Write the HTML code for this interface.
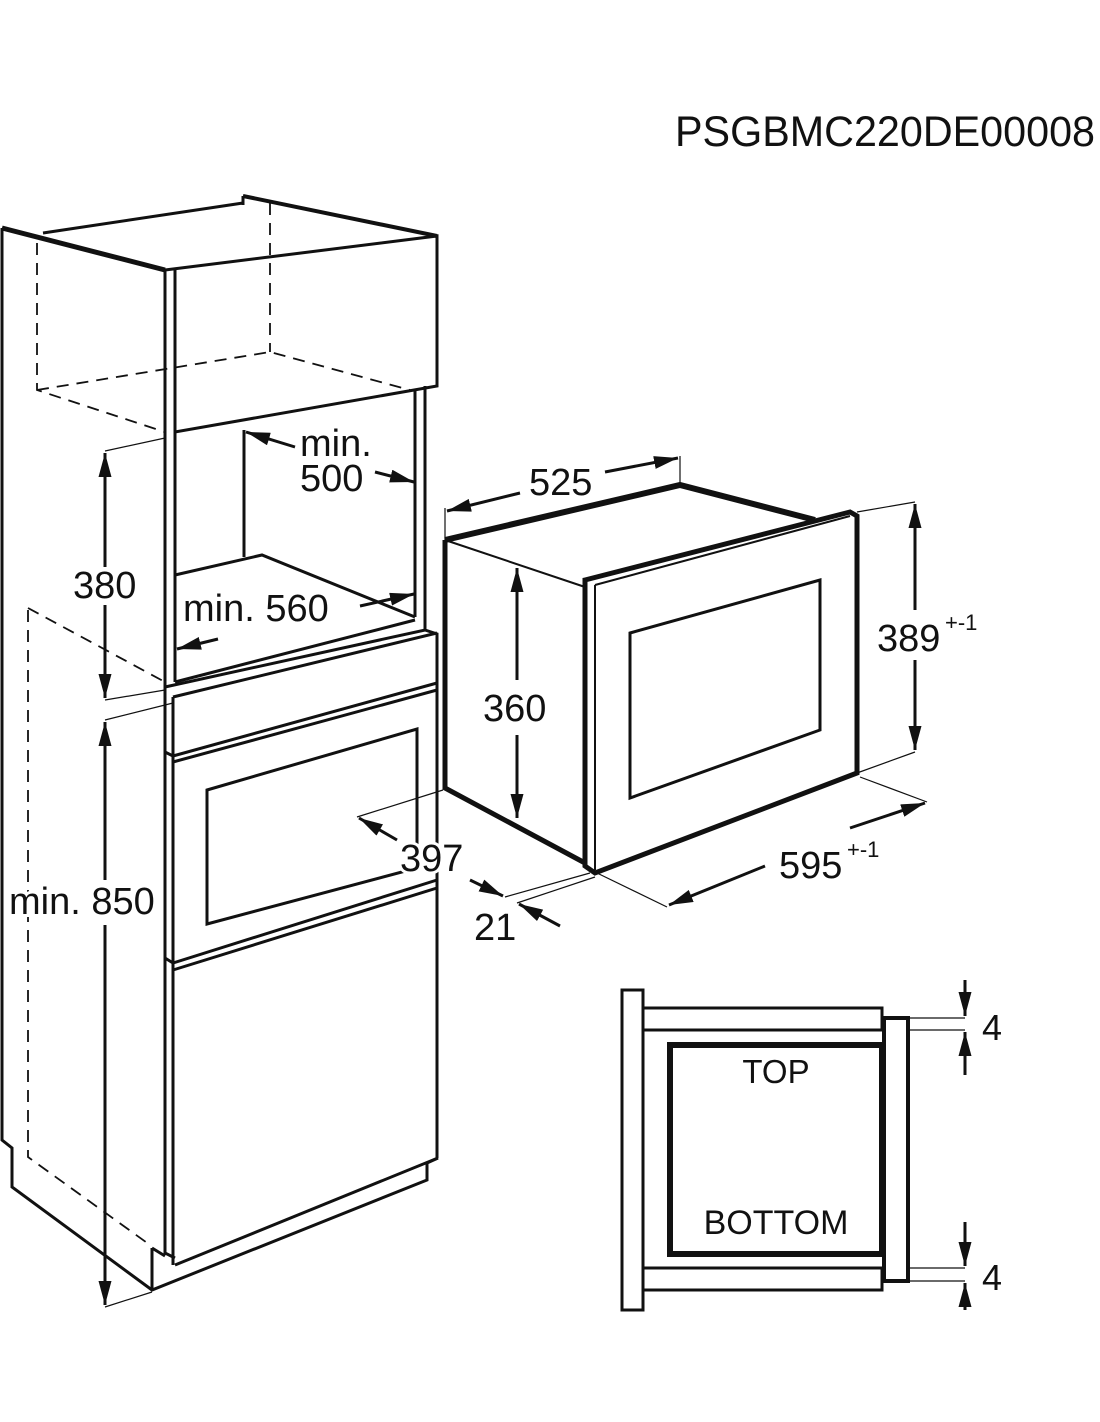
<!DOCTYPE html>
<html><head><meta charset="utf-8"><style>
html,body{margin:0;padding:0;background:#fff}
svg{display:block}
text{font-family:"Liberation Sans",Arial,sans-serif;fill:#111}
.h{stroke:#fff;stroke-width:6;paint-order:stroke}
</style></head><body>
<svg width="1100" height="1422" viewBox="0 0 1100 1422" xmlns="http://www.w3.org/2000/svg">
<defs>
<marker id="a" viewBox="0 0 24 13" refX="24" refY="6.5" markerWidth="24" markerHeight="13" markerUnits="userSpaceOnUse" orient="auto">
<path d="M0,0 L24,6.5 L0,13 Z" fill="#111"/>
</marker>
</defs>
<text x="675" y="146" font-size="43" textLength="420" lengthAdjust="spacingAndGlyphs">PSGBMC220DE00008</text>

<g fill="none" stroke="#111" stroke-width="3" stroke-linejoin="miter">
<path d="M2,228 L2,1140 L12,1148 L12,1187 L152,1290 L427,1180 L427,1163 L438,1158"/>
<path d="M2,228 L165,270" stroke-width="5"/>
<path d="M43,233 L243,203"/>
<path d="M243,196 L437,236" stroke-width="4"/>
<path d="M243,196 L243,205"/>
<path d="M165,270 L437,236 L437,386 L175,432 L175,268"/>
<path d="M165,270 L165,1253 L175,1258"/>
<path d="M175,432 L175,682"/>
<path d="M244,430 L244,557"/>
<path d="M175,575 L262,555 L415,617"/>
<path d="M415,390 L415,617"/>
<path d="M425,386 L425,630"/>
<path d="M175,682 L415,620"/>
<path d="M165,687 L425,630 L437,634 L437,1158"/>
<path d="M173,697 L437,633"/>
<path d="M173,697 L173,1265"/>
<path d="M165,752 L173,756 L437,683"/>
<path d="M173,762 L437,690"/>
<path d="M207,790 L417,729 L417,868 L207,924 Z"/>
<path d="M165,958 L173,963 L437,880"/>
<path d="M173,970 L437,888"/>
<path d="M175,1265 L438,1158"/>
<path d="M152,1248 L152,1290"/>
<path d="M152,1248 L165,1256"/>
</g>
<g fill="none" stroke="#111" stroke-width="1.8" stroke-dasharray="12,8">
<path d="M37,243 L37,390 L165,432"/>
<path d="M37,390 L270,352 L410,390"/>
<path d="M270,203 L270,352"/>
<path d="M28,610 L28,1157 L150,1245"/>
<path d="M28,608 L165,682"/>
</g>
<g fill="none" stroke="#111" stroke-width="1.2">
<path d="M105,451 L165,438"/>
<path d="M105,700 L165,690"/>
<path d="M105,720 L173,703"/>
<path d="M105,1307 L152,1292"/>
<path d="M357,817 L443,790"/>
<path d="M505,897 L590,873"/>
<path d="M517,903 L595,877"/>
<path d="M445,508 L445,540"/>
<path d="M680,456 L680,485"/>
<path d="M857,512 L915,502"/>
<path d="M857,773 L915,752"/>
<path d="M860,777 L927,802"/>
<path d="M597,873 L667,907"/>
</g>
<g fill="none" stroke="#111" stroke-width="3">
<path d="M105,567 L105,453" marker-end="url(#a)"/>
<path d="M105,605 L105,698" marker-end="url(#a)"/>
<path d="M105,880 L105,722" marker-end="url(#a)"/>
<path d="M105,925 L105,1305" marker-end="url(#a)"/>
<path d="M295,447 L246,432" marker-end="url(#a)"/>
<path d="M375,472 L414,482" marker-end="url(#a)"/>
<path d="M360,606 L414,594" marker-end="url(#a)"/>
<path d="M218,639 L177,649" marker-end="url(#a)"/>
<path d="M397,840 L359,818" marker-end="url(#a)"/>
<path d="M470,880 L503,896" marker-end="url(#a)"/>
<path d="M560,926 L519,904" marker-end="url(#a)"/>
<path d="M520,493 L447,511" marker-end="url(#a)"/>
<path d="M605,472 L678,458" marker-end="url(#a)"/>
<path d="M517,680 L517,568" marker-end="url(#a)"/>
<path d="M517,735 L517,818" marker-end="url(#a)"/>
<path d="M915,610 L915,504" marker-end="url(#a)"/>
<path d="M915,660 L915,750" marker-end="url(#a)"/>
<path d="M850,828 L925,803" marker-end="url(#a)"/>
<path d="M765,866 L669,905" marker-end="url(#a)"/>
</g>
<g fill="none" stroke="#111" stroke-linejoin="miter">
<path d="M445,540 L680,485 L815,520" stroke-width="6"/>
<path d="M445,540 L445,788 L585,863" stroke-width="5"/>
<path d="M445,540 L585,587" stroke-width="2"/>
<path d="M585,580 L850,512 L857,516 L857,773 L595,873 L585,866 Z" stroke-width="5"/>
<path d="M595,585 L595,870 M595,585 L850,516" stroke-width="2"/>
<path d="M630,633 L820,580 L820,730 L630,798 Z" stroke-width="3"/>
</g>
<g fill="none" stroke="#111">
<rect x="622" y="990" width="21" height="320" stroke-width="3"/>
<path d="M643,1008 L882,1008 L882,1030 L643,1030" stroke-width="3"/>
<path d="M643,1268 L882,1268 L882,1290 L643,1290" stroke-width="3"/>
<rect x="670" y="1045" width="212" height="209" stroke-width="6"/>
<rect x="884" y="1018" width="24" height="263" stroke-width="4"/>
<path d="M908,1018 L965,1018 M908,1030 L965,1030 M908,1268 L965,1268 M908,1281 L965,1281" stroke-width="1.2"/>
<path d="M965,980 L965,1016" stroke-width="3" marker-end="url(#a)"/>
<path d="M965,1075 L965,1032" stroke-width="3" marker-end="url(#a)"/>
<path d="M965,1222 L965,1266" stroke-width="3" marker-end="url(#a)"/>
<path d="M965,1310 L965,1283" stroke-width="3" marker-end="url(#a)"/>
</g>
<g font-size="38">
<text x="73" y="598">380</text>
<text x="300" y="456">min.</text>
<text x="300" y="491">500</text>
<text x="183" y="621">min. 560</text>
<text class="h" x="9" y="914">min. 850</text>
<text class="h" x="400" y="871">397</text>
<text x="474" y="940">21</text>
<text x="529" y="495">525</text>
<text x="483" y="721">360</text>
<text x="877" y="651">389</text>
<text x="779" y="878">595</text>
<text x="982" y="1040" font-size="36">4</text>
<text x="982" y="1290" font-size="36">4</text>
</g>
<text x="945" y="630" font-size="22">+-1</text>
<text x="847" y="857" font-size="22">+-1</text>
<text x="776" y="1083" font-size="33" text-anchor="middle">TOP</text>
<text x="776" y="1234" font-size="34" text-anchor="middle">BOTTOM</text>
</svg>
</body></html>
